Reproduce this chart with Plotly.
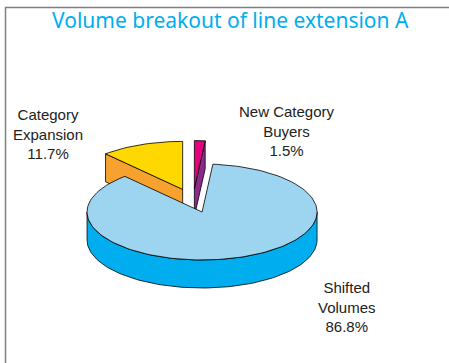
import numpy as np
import plotly.graph_objects as go

# ---- data ----
labels = ["New Category Buyers", "Shifted Volumes", "Category Expansion"]
label_text = ["New Category<br>Buyers<br>1.5%", "Shifted<br>Volumes<br>86.8%", "Category<br>Expansion<br>11.7%"]
values = [1.5, 86.8, 11.7]
top_colors = ["#E6007E", "#9DD4F0", "#FFD800"]
side_colors = ["#8B2A8C", "#00AEEF", "#F7A12F"]

# ---- geometry (pixel space) ----
W, H = 449, 363
BASE = (193.0, 200.6)
RX, RY = 115.0, 48.0
DEPTH = 28.0
EXPLODE = 0.25

fig = go.Figure()

def P(c, t, dz=0.0):
    r = np.radians(t)
    return c[0] + RX * np.sin(r), c[1] - RY * np.cos(r) + dz

def arc(c, a, b, dz=0.0):
    n = max(4, int(abs(b - a) / 2) + 2)
    ts = np.linspace(a, b, n)
    xs, ys = P(c, ts, dz)
    return list(xs), list(ys)

def poly(xs, ys, color):
    fig.add_trace(go.Scatter(x=xs + [xs[0]], y=ys + [ys[0]], mode="lines", fill="toself",
                             fillcolor=color, line=dict(color="black", width=0.8),
                             hoverinfo="skip", showlegend=False))

total = sum(values)
slices = []
start = 0.0
for i, v in enumerate(values):
    span = v / total * 360.0
    a, b = start, start + span
    m = np.radians((a + b) / 2)
    c = (BASE[0] + EXPLODE * RX * np.sin(m), BASE[1] - EXPLODE * RY * np.cos(m))
    slices.append((i, a, b, c))
    start = b

# back to front
slices.sort(key=lambda s: s[3][1])
for i, a, b, c in slices:
    # radial faces
    for ang, nd in ((a, a - 90), (b, b + 90)):
        if -np.cos(np.radians(nd)) > 0:
            px, py = P(c, ang)
            poly([c[0], px, px, c[0]], [c[1], py, py + DEPTH, c[1] + DEPTH], side_colors[i])
    # outer wall
    lo, hi = max(a, 90), min(b, 270)
    if hi > lo:
        x1, y1 = arc(c, lo, hi)
        x2, y2 = arc(c, hi, lo, DEPTH)
        poly(x1 + x2, y1 + y2, side_colors[i])
    # top
    xs, ys = arc(c, a, b)
    poly([c[0]] + xs, [c[1]] + ys, top_colors[i])

label_pos = [(287, 131), (347, 307), (48, 134)]
for txt, (lx, ly) in zip(label_text, label_pos):
    fig.add_annotation(x=lx, y=ly, text=txt, showarrow=False, xanchor="center", yanchor="middle",
                       font=dict(family="Liberation Sans, Arial", size=15, color="#222222"))

fig.add_annotation(x=230, y=20, text="Volume breakout of line extension A", showarrow=False,
                   xanchor="center", yanchor="middle",
                   font=dict(family="Noto Sans", size=21, color="#00AEEF"))

fig.add_shape(type="rect", x0=5.5, y0=7.5, x1=W + 5, y1=H + 5, line=dict(color="#808080", width=1.5),
              layer="below")

fig.update_layout(width=W, height=H, margin=dict(l=0, r=0, t=0, b=0),
                  paper_bgcolor="white", plot_bgcolor="white",
                  xaxis=dict(range=[0, W], visible=False, fixedrange=True),
                  yaxis=dict(range=[H, 0], visible=False, fixedrange=True))

fig.write_html("out.html")
